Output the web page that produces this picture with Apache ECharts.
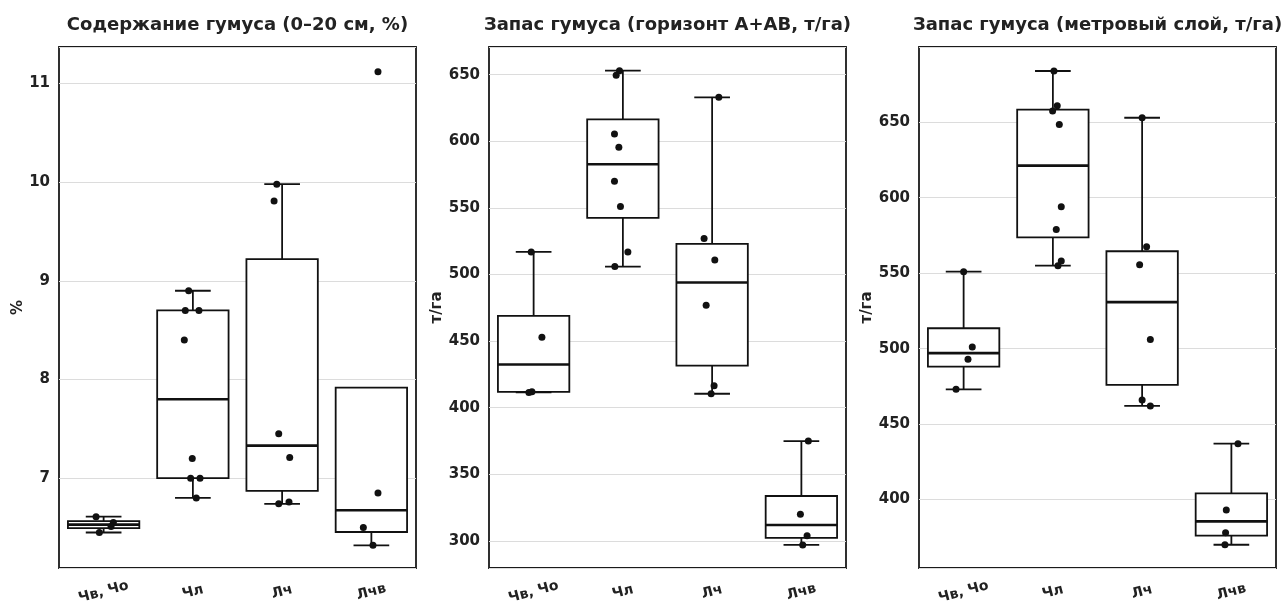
<!DOCTYPE html>
<html>
<head>
<meta charset="utf-8">
<title>Гумус</title>
<script src="https://cdn.jsdelivr.net/npm/echarts@6/dist/echarts.min.js"></script>
<style>
  html, body { margin: 0; padding: 0; background: #fff; }
  #chart { width: 1283px; height: 606px; }
</style>
</head>
<body>
<div id="chart"></div>
<script>
// категории почв
const categories = ['Чв, Чо', 'Чл', 'Лч', 'Лчв']

// содержание гумуса 0-20 см, %
const humusPct = [
  [6.61, 6.55, 6.51, 6.45],
  [8.90, 8.70, 8.70, 8.40, 7.20, 7.00, 7.00, 6.80],
  [9.98, 9.81, 7.45, 7.21, 6.76, 6.74],
  [11.12, 6.85, 6.50, 6.32]
]
const humusPctJitter = [
  [-0.085, 0.109, 0.083, -0.048],
  [-0.047, -0.085, 0.068, -0.096, -0.007, -0.025, 0.08, 0.038],
  [-0.06, -0.09, -0.038, 0.085, 0.077, -0.038],
  [0.074, 0.074, -0.09, 0.018]
]

// запас гумуса, горизонт A+AB, т/га
const stockAB = [
  [517, 453, 412, 411.5],
  [653, 649.5, 605.5, 595.5, 570, 551, 517, 506],
  [633, 527, 511, 477, 416.5, 410.5],
  [375, 320, 304, 297]
]
const stockABJitter = [
  [-0.027, 0.093, -0.019, -0.053],
  [-0.038, -0.075, -0.094, -0.045, -0.094, -0.027, 0.056, -0.09],
  [0.075, -0.09, 0.03, -0.067, 0.022, -0.011],
  [0.078, -0.011, 0.064, 0.015]
]

// запас гумуса, метровый слой, т/га
const stockMeter = [
  [551, 501, 493, 473],
  [684, 661, 657.5, 648.5, 594, 579, 558, 555],
  [653, 567.5, 555.6, 506, 466, 462],
  [437, 393, 378, 370]
]
const stockMeterJitter = [
  [0, 0.097, 0.049, -0.085],
  [0.012, 0.049, -0.003, 0.072, 0.094, 0.038, 0.094, 0.057],
  [0, 0.05, -0.028, 0.092, 0, 0.092],
  [0.074, -0.057, -0.065, -0.072]
]

const panelTitles = [
  'Содержание гумуса (0–20 см, %)',
  'Запас гумуса (горизонт A+AB, т/га)',
  'Запас гумуса (метровый слой, т/га)'
]
const axisNames = ['%', 'т/га', 'т/га']

const FONT = 'DejaVu Sans'
const TEXT = '#222'

// квантиль как в numpy (линейная интерполяция)
const quantile = (sorted, p) => {
  const pos = (sorted.length - 1) * p
  const i = Math.floor(pos)
  const f = pos - i
  return i + 1 < sorted.length ? sorted[i] + f * (sorted[i + 1] - sorted[i]) : sorted[i]
}

// [индекс, нижний ус, q1, медиана, q3, верхний ус]
const boxStats = (groups) => groups.map((vals, i) => {
  const s = vals.slice().sort((a, b) => a - b)
  const q1 = quantile(s, 0.25)
  const md = quantile(s, 0.5)
  const q3 = quantile(s, 0.75)
  const iqr = q3 - q1
  let lo = Math.min(...s.filter(v => v >= q1 - 1.5 * iqr))
  let hi = Math.max(...s.filter(v => v <= q3 + 1.5 * iqr))
  if (lo > q1) lo = q1
  if (hi < q3) hi = q3
  return [i, lo, q1, md, q3, hi]
})

const points = (groups, jitter) => {
  const out = []
  groups.forEach((vals, i) => {
    vals.forEach((v, k) => out.push([i + jitter[i][k], v]))
  })
  return out
}

function renderBox (params, api) {
  const x = api.value(0)
  const lo = api.coord([x, api.value(1)])
  const q1 = api.coord([x, api.value(2)])
  const md = api.coord([x, api.value(3)])
  const q3 = api.coord([x, api.value(4)])
  const hi = api.coord([x, api.value(5)])
  const w = api.size([0.8, 0])[0]
  const cx = lo[0]
  const line = { stroke: '#111', lineWidth: 1.8 }
  const parts = [
    { type: 'line', shape: { x1: cx, y1: lo[1], x2: cx, y2: q1[1] }, style: line },
    { type: 'line', shape: { x1: cx, y1: q3[1], x2: cx, y2: hi[1] }, style: line },
    { type: 'line', shape: { x1: cx - w / 4, y1: lo[1], x2: cx + w / 4, y2: lo[1] }, style: line }
  ]
  // верхний ус не рисуем, если он совпал с q3
  if (api.value(5) > api.value(4)) {
    parts.push({ type: 'line', shape: { x1: cx - w / 4, y1: hi[1], x2: cx + w / 4, y2: hi[1] }, style: line })
  }
  parts.push(
    { type: 'rect', shape: { x: cx - w / 2, y: q3[1], width: w, height: q1[1] - q3[1] }, style: { fill: '#fff', stroke: '#111', lineWidth: 1.8 } },
    { type: 'line', shape: { x1: cx - w / 2, y1: md[1], x2: cx + w / 2, y2: md[1] }, style: { stroke: '#111', lineWidth: 2.6 } }
  )
  return { type: 'group', children: parts }
}

const panels = [
  { data: humusPct, jitter: humusPctJitter, min: 6.09, max: 11.37, step: 1, gap: 33 },
  { data: stockAB, jitter: stockABJitter, min: 279.7, max: 670.8, step: 50, gap: 40 },
  { data: stockMeter, jitter: stockMeterJitter, min: 354.6, max: 699.9, step: 50, gap: 40 }
]
const gridLefts = [59, 489, 919]
const gridWidth = 357

const option = {
  animation: false,
  backgroundColor: '#fff',
  title: panelTitles.map((t, g) => ({
    text: t,
    left: gridLefts[g] + gridWidth / 2,
    top: 16,
    padding: 0,
    textAlign: 'center',
    textStyle: { fontFamily: FONT, fontWeight: 'bold', fontSize: 18, color: TEXT }
  })),
  grid: gridLefts.map(l => ({
    left: l,
    top: 47,
    width: gridWidth,
    height: 521,
    outerBoundsMode: 'none',
    containLabel: false,
    show: true,
    borderColor: '#1a1a1a',
    borderWidth: 1.8,
    backgroundColor: '#fff'
  })),
  xAxis: [],
  yAxis: [],
  series: []
}

panels.forEach((p, g) => {
  option.xAxis.push({
    type: 'category',
    gridIndex: g,
    data: categories,
    axisLine: { show: false },
    axisTick: { show: false },
    splitLine: { show: false },
    axisLabel: {
      rotate: 15,
      align: 'center',
      verticalAlign: 'middle',
      margin: 24,
      fontFamily: FONT,
      fontWeight: 'bold',
      fontSize: 14,
      color: TEXT
    }
  })
  option.xAxis.push({
    type: 'value',
    gridIndex: g,
    min: -0.5,
    max: 3.5,
    show: false
  })
  option.yAxis.push({
    type: 'value',
    gridIndex: g,
    min: p.min,
    max: p.max,
    minInterval: p.step,
    maxInterval: p.step,
    name: axisNames[g],
    nameLocation: 'middle',
    nameGap: p.gap,
    nameRotate: 90,
    nameTextStyle: { fontFamily: FONT, fontWeight: 'bold', fontSize: 15, color: TEXT },
    axisLine: { show: false },
    axisTick: { show: false },
    splitLine: { lineStyle: { color: '#dcdcdc', width: 1 } },
    axisLabel: {
      margin: 9,
      fontFamily: FONT,
      fontWeight: 'bold',
      fontSize: 15,
      color: TEXT,
      formatter: (v) => {
        const r = Math.round(v / p.step) * p.step
        return Math.abs(v - r) < 1e-6 ? String(r) : ''
      }
    }
  })
  option.series.push({
    type: 'custom',
    xAxisIndex: 2 * g + 1,
    yAxisIndex: g,
    renderItem: renderBox,
    encode: { x: 0, y: [1, 2, 3, 4, 5] },
    data: boxStats(p.data),
    z: 2
  })
  option.series.push({
    type: 'scatter',
    xAxisIndex: 2 * g + 1,
    yAxisIndex: g,
    symbolSize: 7,
    itemStyle: { color: '#111', opacity: 1 },
    data: points(p.data, p.jitter),
    z: 3
  })
})

const chart = echarts.init(document.getElementById('chart'))
chart.setOption(option)
</script>
</body>
</html>
